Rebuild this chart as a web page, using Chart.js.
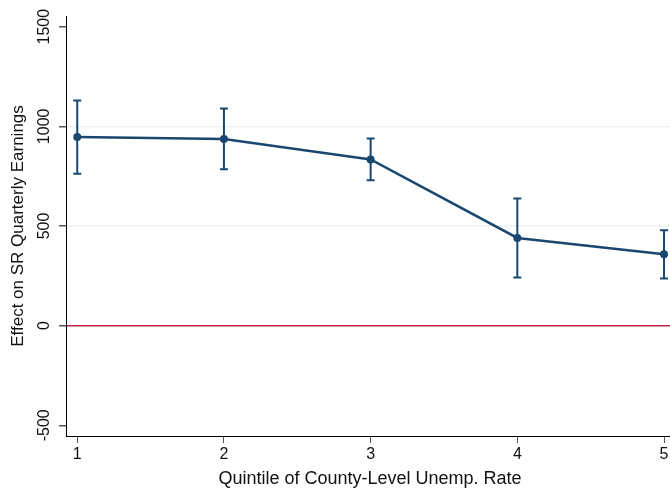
<!DOCTYPE html>
<html>
<head>
<meta charset="utf-8">
<script src="https://cdn.jsdelivr.net/npm/chart.js@4"></script>
<style>
html, body { margin: 0; padding: 0; overflow: hidden; background: #fff; }
#wrap { width: 678px; height: 489px; }
</style>
</head>
<body>
<div id="wrap"><canvas id="myChart"></canvas></div>
<script>
const quintiles = [1, 2, 3, 4, 5];
const effect = [946, 937, 834, 440, 358];
const ciLow = [762, 785, 729, 241, 236];
const ciHigh = [1130, 1090, 939, 638, 479];
const xTicks = [1, 2, 3, 4, 5];
const yTicks = [-500, 0, 500, 1000, 1500];
const gridValues = [500, 1000];
const refValue = 0;

const navy = '#1a476f';
const red = '#c0264a';
const font = { family: '"Liberation Sans", Arial, sans-serif', size: 16 };
const titleFont = { family: '"Liberation Sans", Arial, sans-serif', size: 17 };

// error bars drawn through the scales, under the line and markers
const errorBars = {
    id: 'errorBars',
    beforeDatasetsDraw(chart) {
        const c = chart.ctx;
        const xs = chart.scales.x, ys = chart.scales.y;
        c.save();
        c.strokeStyle = navy;
        c.lineWidth = 2;
        quintiles.forEach((q, i) => {
            const x = xs.getPixelForValue(q);
            const yTop = ys.getPixelForValue(ciHigh[i]);
            const yBot = ys.getPixelForValue(ciLow[i]);
            c.beginPath();
            c.moveTo(x, yTop); c.lineTo(x, yBot);
            c.moveTo(x - 4, yTop); c.lineTo(x + 4, yTop);
            c.moveTo(x - 4, yBot); c.lineTo(x + 4, yBot);
            c.stroke();
        });
        c.restore();
    }
};

const ctx = document.getElementById('myChart');
const newChart = new Chart(ctx, {
    type: 'line',
    data: {
        datasets: [{
            data: quintiles.map((q, i) => ({ x: q, y: effect[i] })),
            borderColor: navy,
            borderWidth: 2.5,
            pointRadius: 4,
            pointBackgroundColor: navy,
            pointBorderWidth: 0,
            tension: 0
        }]
    },
    options: {
        responsive: true,
        maintainAspectRatio: false,
        animation: false,
        layout: { padding: { top: 16, left: 0, right: 0, bottom: 0 } },
        plugins: { legend: { display: false }, tooltip: { enabled: false } },
        scales: {
            x: {
                type: 'linear',
                min: 0.9234,
                max: 5.068,
                afterBuildTicks: s => { s.ticks = xTicks.map(v => ({ value: v })); },
                afterFit: s => { s.height = 53; },
                border: { color: '#000', width: 1 },
                grid: { drawOnChartArea: false, drawTicks: true, tickLength: 7, tickColor: '#555' },
                ticks: { font: font, color: '#111', padding: 2, maxRotation: 0, callback: v => String(v) },
                title: {
                    display: true,
                    text: 'Quintile of County-Level Unemp. Rate',
                    font: { ...titleFont, size: 18, lineHeight: 0.8 },
                    color: '#111',
                    padding: { top: 0, bottom: 3 }
                }
            },
            y: {
                type: 'linear',
                min: -553.7,
                max: 1553.7,
                afterBuildTicks: s => { s.ticks = yTicks.map(v => ({ value: v })); },
                afterFit: s => { s.width = 66; },
                border: { color: '#000', width: 1 },
                grid: {
                    color: c => c.tick && c.tick.value === refValue ? red
                        : (c.tick && gridValues.includes(c.tick.value) ? '#eaf2f3' : 'rgba(0,0,0,0)'),
                    lineWidth: 1.5,
                    tickLength: 7,
                    tickColor: '#555'
                },
                ticks: { font: font, color: '#111', minRotation: 90, maxRotation: 90, crossAlign: 'center', padding: -3, callback: v => String(v) },
                title: {
                    display: true,
                    text: 'Effect on SR Quarterly Earnings',
                    font: titleFont,
                    color: '#111',
                    padding: { top: 8, bottom: 0 }
                }
            }
        }
    },
    plugins: [errorBars]
});
</script>
</body>
</html>
